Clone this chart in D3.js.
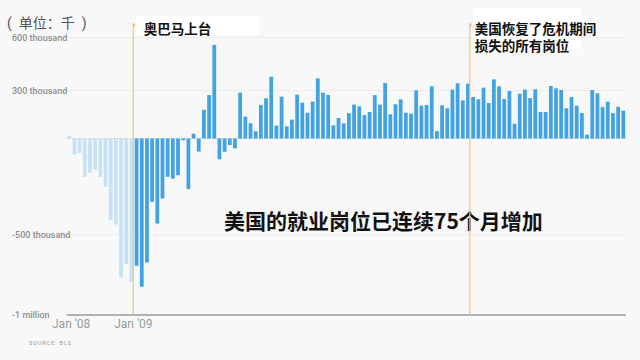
<!DOCTYPE html>
<html>
<head>
<meta charset="utf-8">
<script src="https://cdn.jsdelivr.net/npm/d3@7"></script>
<style>
body { margin: 0; background: #f8f8f8; }
svg { display: block; font-family: Roboto, "Noto Sans CJK SC", sans-serif; }
</style>
</head>
<body>
<div id="chart"></div>
<script>
// monthly change in US jobs, thousands (BLS)
var firstMonth = "2008-01";
var lastMonth = "2016-12";
var jobs = [
   15,  -91,  -81, -217, -193, -176, -217, -274, -463, -487, -788, -712,
 -812, -721, -840, -703, -359, -482, -340, -217, -227, -208,  -10, -287,
   27,  -74,  163,  246,  530, -118,  -75,  -37,  -56,  260,  124,   86,
   41,  190,  228,  350,   73,  237,   69,  107,  248,  203,  146,  209,
  341,  260,  247,   75,  116,   86,  144,  192,  182,  133,  150,  246,
  192,  314,  137,  194,  222,  146,  141,  273,  186,  190,  296,   42,
  188,  171,  277,  313,  216,  311,  235,  222,  288,  201,  335,  296,
  224,  269,   84,  254,  277,  229,  279,  150,  150,  297,  284,  275,
  171,  235,  186,  144,   22,  275,  256,  178,  209,  144,  180,  158
];
var obamaFirstMonth = "2009-02";

var yTicks = [600, 300, -500, -1000];
var yTickLabels = ["600 thousand", "300 thousand", "-500 thousand", "-1 million"];
var xTicks = ["2008-01", "2009-01"];
var xTickLabels = ["Jan '08", "Jan '09"];

var noteMonths = ["2009-01", "2014-06"];
var noteTexts = [["奥巴马上台"], ["美国恢复了危机期间", "损失的所有岗位"]];

var unitLabel = "(  单位：千  )";
var headline = "美国的就业岗位已连续75个月增加";
var source = "SOURCE: BLS";

function drawChart() {
    var width = 640;
    var height = 360;

    var parse = d3.timeParse("%Y-%m");
    var fmt = d3.timeFormat("%Y-%m");
    var months = d3.timeMonth.range(parse(firstMonth), d3.timeMonth.offset(parse(lastMonth), 1)).map(fmt);
    var data = months.map(function(m, i) { return {month: m, value: jobs[i]}; });

    var xScale = d3.scaleBand()
    .domain(months)
    .range([66.7, 625.9])
    .paddingInner(0.27)
    .paddingOuter(0.135);

    var yScale = d3.scaleLinear()
    .domain([-1000, 600])
    .range([315, 32.6]);

    // the grid labels sit a little below their values in the original
    var labelShift = function(d) { return d === -1000 ? -0.5 : (d < 0 ? 8 : 5); };

    var svg = d3.select("#chart").append("svg")
    .attr("width", width)
    .attr("height", height);

    svg.append("rect")
    .attr("width", width)
    .attr("height", height)
    .attr("fill", "#f8f8f8");

    // grid
    svg.selectAll(".grid")
    .data(yTicks.filter(function(d) { return d > -1000; }))
    .enter().append("line")
    .attr("class", "grid")
    .attr("x1", 64)
    .attr("x2", 626)
    .attr("y1", function(d) { return yScale(d) + labelShift(d); })
    .attr("y2", function(d) { return yScale(d) + labelShift(d); })
    .attr("stroke", "#ececec")
    .attr("stroke-width", 1);

    svg.selectAll(".ylab")
    .data(yTicks)
    .enter().append("text")
    .attr("class", "ylab")
    .attr("x", 12)
    .attr("y", function(d) { return yScale(d) + labelShift(d); })
    .attr("dy", "0.35em")
    .style("font-size", "9px")
    .style("font-weight", 500)
    .style("fill", "#8e8e8e")
    .text(function(d, i) { return yTickLabels[i]; });

    // zero line
    svg.append("line")
    .attr("x1", 66)
    .attr("x2", 626)
    .attr("y1", yScale(0))
    .attr("y2", yScale(0))
    .attr("stroke", "#d6dde3")
    .attr("stroke-width", 1.2);

    // bars
    svg.selectAll(".bar")
    .data(data)
    .enter().append("rect")
    .attr("class", "bar")
    .attr("x", function(d) { return xScale(d.month); })
    .attr("width", xScale.bandwidth())
    .attr("y", function(d) { return yScale(Math.max(0, d.value)); })
    .attr("height", function(d) { return Math.abs(yScale(d.value) - yScale(0)); })
    .attr("fill", function(d) { return d.month < obamaFirstMonth ? "#c8e2f5" : "#42a3e2"; });

    // bottom axis line
    svg.append("line")
    .attr("x1", 66.7)
    .attr("x2", 625.9)
    .attr("y1", yScale(-1000))
    .attr("y2", yScale(-1000))
    .attr("stroke", "#9a9a9a")
    .attr("stroke-width", 1.5);

    svg.selectAll(".xlab")
    .data(xTicks)
    .enter().append("text")
    .attr("class", "xlab")
    .attr("x", function(d) { return xScale(d) + xScale.bandwidth(); })
    .attr("y", 327.5)
    .style("text-anchor", "middle")
    .style("font-size", "12px")
    .style("fill", "#9a9a9a")
    .text(function(d, i) { return xTickLabels[i]; });

    svg.append("text")
    .attr("x", 7)
    .attr("y", 27.5)
    .style("white-space", "pre")
    .style("font-size", "14px")
    .style("fill", "#555")
    .text(unitLabel);

    svg.append("text")
    .attr("x", 29)
    .attr("y", 344.5)
    .style("font-size", "5.5px")
    .style("letter-spacing", "0.9px")
    .style("fill", "#999")
    .text(source);

    svg.append("text")
    .attr("x", 224)
    .attr("y", 228.5)
    .style("font-family", "'Noto Sans CJK SC', sans-serif")
    .style("font-size", "21px")
    .style("font-weight", 700)
    .style("fill", "#111")
    .text(headline);

    // annotations
    var boxes = [{dx: 2.7, y: 16, w: 123, h: 19, tx: 10.5, ty: 33.5},
                 {dx: 3, y: 8, w: 108, h: 40.3, tx: 5, ty: 33.8}];

    noteMonths.forEach(function(m, i) {
        var lx = xScale(m) + xScale.bandwidth();
        var b = boxes[i];

        svg.append("rect")
        .attr("x", lx + b.dx)
        .attr("y", b.y)
        .attr("width", b.w)
        .attr("height", b.h)
        .attr("fill", "#fff");

        svg.append("line")
        .attr("x1", lx)
        .attr("x2", lx)
        .attr("y1", 23.5)
        .attr("y2", yScale(-1000))
        .attr("stroke", "#f3c57c")
        .attr("stroke-width", 1.2);

        svg.append("path")
        .attr("d", "M" + (lx - 0.5) + ",23 L" + (lx + 2.3) + ",25 L" + (lx - 0.5) + ",27 Z")
        .attr("fill", "#f0b85e");

        var t = svg.append("text")
        .attr("x", lx + b.tx)
        .attr("y", b.ty)
        .style("font-family", "'Noto Sans CJK SC', sans-serif")
        .style("font-size", "13.5px")
        .style("font-weight", 700)
        .style("fill", "#111");

        t.selectAll("tspan")
        .data(noteTexts[i])
        .enter().append("tspan")
        .attr("x", lx + b.tx)
        .attr("dy", function(d, j) { return j === 0 ? 0 : 17.4; })
        .text(function(d) { return d; });
    });
}

drawChart();
</script>
</body>
</html>
